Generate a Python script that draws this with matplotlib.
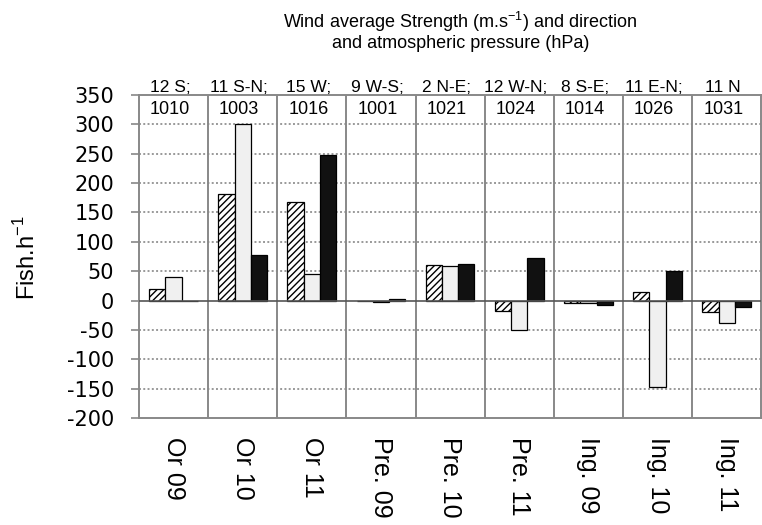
import numpy as np
import matplotlib.pyplot as plt

plt.rcParams['font.family'] = ['Liberation Sans', 'DejaVu Sans']
plt.rcParams['axes.unicode_minus'] = False

# data
sites = ['Or 09', 'Or 10', 'Or 11', 'Pre. 09', 'Pre. 10', 'Pre. 11',
         'Ing. 09', 'Ing. 10', 'Ing. 11']
wind = ['12 S;', '11 S-N;', '15 W;', '9 W-S;', '2 N-E;', '12 W-N;',
        '8 S-E;', '11 E-N;', '11 N']
pressure = ['1010', '1003', '1016', '1001', '1021', '1024', '1014', '1026', '1031']
hatched = [20, 181, 167, 0, 61, -17, -5, 14, -20]
light = [40, 300, 45, -3, 58, -50, -4, -148, -38]
black = [0, 77, 248, 2, 62, 72, -7, 50, -11]

fig = plt.figure(figsize=(7.62, 5.25), dpi=100)
ax = fig.add_axes([0.1824, 0.2038, 0.8166, 0.6152])

x = np.arange(len(sites)) + 0.5
w = 0.235
ax.bar(x - w, hatched, w, color='white', edgecolor='black', hatch='/////',
       linewidth=0.9, zorder=3)
ax.bar(x, light, w, color='#f0f0f0', edgecolor='black', linewidth=0.9, zorder=3)
ax.bar(x + w, black, w, color='#111111', edgecolor='black', linewidth=0.9, zorder=3)

ax.set_xlim(0, len(sites))
ax.set_ylim(-200, 350)
ax.set_yticks(np.arange(-200, 351, 50))
for v in np.arange(-150, 301, 50):
    if v == 0:
        ax.axhline(0, color='#555555', lw=1.2, zorder=4)
    else:
        ax.axhline(v, color='#999999', lw=1.4, ls=(0, (1, 1.2)), zorder=1)
for i in range(1, len(sites)):
    ax.axvline(i, color='#888888', lw=1.4, zorder=2)

for s in ax.spines.values():
    s.set_color('#888888')
    s.set_linewidth(1.4)

ax.tick_params(axis='y', direction='out', length=6, color='#888888', width=1.2,
               pad=12)
for t in ax.get_yticklabels():
    t.set_fontfamily('DejaVu Sans')
    t.set_fontsize(15)
ax.set_xticks(x)
ax.set_xticklabels(sites, rotation=-90, fontsize=18)
ax.tick_params(axis='x', length=0, pad=14)

for xi, wd, p in zip(x, wind, pressure):
    ax.text(xi - 0.05, 363, wd, ha='center', va='center', fontsize=12.5,
            clip_on=False)
    ax.text(xi - 0.05, 326, p, ha='center', va='center', fontsize=13)

fig.text(0.604, 0.959, 'Wind average Strength (m.s$^{\\mathregular{-1}}$) and direction',
         ha='center', va='center', fontsize=13)
fig.text(0.604, 0.917, 'and atmospheric pressure (hPa)',
         ha='center', va='center', fontsize=13)
fig.text(0.036, 0.51, 'Fish.h$^{\\mathregular{-1}}$', rotation=90, ha='center',
         va='center', fontsize=17)

fig.savefig('out.png', dpi=100)
